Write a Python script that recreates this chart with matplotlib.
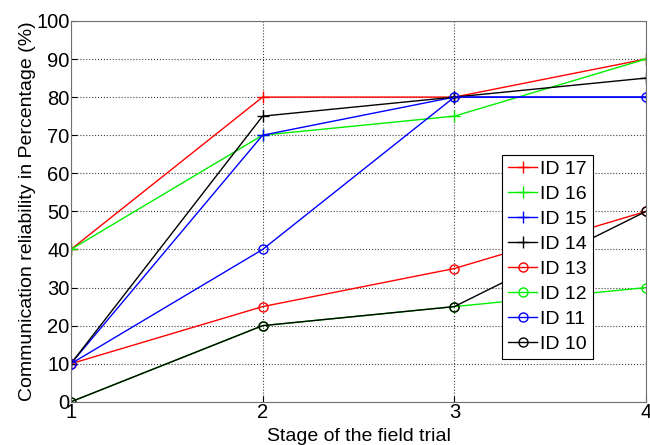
import matplotlib
matplotlib.use("Agg")
import matplotlib.pyplot as plt

plt.rcParams['font.family'] = ['Liberation Sans', 'DejaVu Sans']

# Data
stages = [1, 2, 3, 4]
labels = ['ID 17', 'ID 16', 'ID 15', 'ID 14', 'ID 13', 'ID 12', 'ID 11', 'ID 10']
id17 = [40, 80, 80, 90]
id16 = [40, 70, 75, 90]
id15 = [10, 70, 80, 80]
id14 = [10, 75, 80, 85]
id13 = [10, 25, 35, 50]
id12 = [0, 20, 25, 30]
id11 = [10, 40, 80, 80]
id10 = [0, 20, 25, 50]

series = [id17, id16, id15, id14, id13, id12, id11, id10]
colors = ['#ff0000', '#00ee00', '#0000ff', '#000000',
          '#ff0000', '#00ee00', '#0000ff', '#000000']
markers = ['+', '+', '+', '+', 'o', 'o', 'o', 'o']

fig = plt.figure(figsize=(6.5, 4.45), dpi=100)
ax = fig.add_axes([0.109, 0.097, 0.885, 0.856])

for vals, c, m, lab in zip(series, colors, markers, labels):
    ax.plot(stages, vals, color=c, marker=m, markersize=8 if m == '+' else 6.5,
            markerfacecolor='none', markeredgewidth=1.0, linewidth=1.0, label=lab)

ax.set_xlim(1, 4)
ax.set_ylim(0, 100)
ax.set_xticks(stages)
ax.set_yticks(range(0, 101, 10))
ax.grid(True, linestyle=':', color='#404040', linewidth=0.8)
ax.tick_params(direction='in', labelsize=14.5, pad=1, length=4)
for s in ax.spines.values():
    s.set_color('#707070')
    s.set_linewidth(0.8)

ax.set_xlabel('Stage of the field trial', fontsize=14, labelpad=4)
ax.set_ylabel('Communication reliability in Percentage (%)', fontsize=14, labelpad=0)

leg = ax.legend(loc='lower left', bbox_to_anchor=(0.75, 0.113), fontsize=14,
                handlelength=1.5, handletextpad=0.15, labelspacing=0.38,
                borderpad=0.3, fancybox=False, framealpha=1, borderaxespad=0)
leg.get_frame().set_edgecolor('black')
leg.get_frame().set_linewidth(0.8)

fig.savefig('out.png', dpi=100)
